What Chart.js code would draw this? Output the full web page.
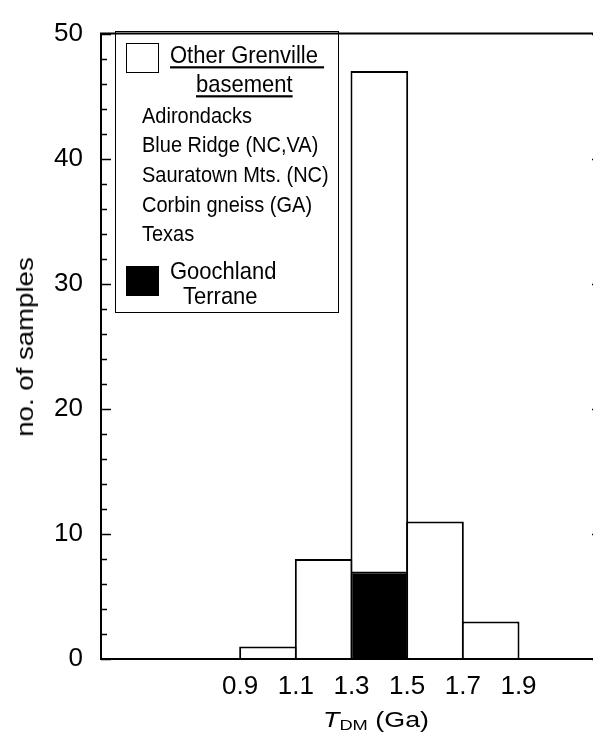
<!DOCTYPE html>
<html>
<head>
<meta charset="utf-8">
<script src="https://cdn.jsdelivr.net/npm/chart.js@4/dist/chart.umd.min.js"></script>
<style>
  html, body { margin: 0; padding: 0; background: #fff; overflow: hidden; }
  #wrap { position: relative; width: 610px; height: 744px; }
  #chartBox { position: absolute; left: 0; top: 0; width: 610px; height: 744px; }
  .t { position: absolute; font-family: "Liberation Sans", Arial, sans-serif; color: #000; white-space: nowrap; line-height: 1; }
  #legendBox { position: absolute; left: 115px; top: 31px; width: 222px; height: 280px; border: 1.5px solid #000; }
  .sw { position: absolute; border: 1.5px solid #000; box-sizing: border-box; }
  .u { text-decoration: underline; text-decoration-thickness: 1.5px; text-underline-offset: 3px; }
  .s { transform: scaleY(1.1); transform-origin: left 85%; }
</style>
</head>
<body>
<div id="wrap">
  <div id="chartBox"><canvas id="c"></canvas></div>

  <div id="legendBox"></div>
  <div class="sw" style="left:126px; top:43px; width:33px; height:30px; background:#fff;"></div>
  <div class="t u s" style="left:170px; top:45px; font-size:22px;">Other Grenville&nbsp;</div>
  <div class="t u s" style="left:196px; top:74px; font-size:22px;">basement</div>
  <div class="t s" style="left:142px; top:106px; font-size:20px;">Adirondacks</div>
  <div class="t s" style="left:142px; top:135px; font-size:20px;">Blue Ridge (NC,VA)</div>
  <div class="t s" style="left:142px; top:165px; font-size:20px;">Sauratown Mts. (NC)</div>
  <div class="t s" style="left:142px; top:195px; font-size:20px;">Corbin gneiss (GA)</div>
  <div class="t s" style="left:142px; top:224px; font-size:20px;">Texas</div>
  <div class="sw" style="left:126px; top:266px; width:33px; height:30px; background:#000;"></div>
  <div class="t s" style="left:170px; top:261px; font-size:22px;">Goochland</div>
  <div class="t s" style="left:183px; top:286px; font-size:22px;">Terrane</div>

  <div class="t" style="left:226px; top:709px; width:300px; text-align:center; font-size:22px; transform:scaleX(1.22); transform-origin:center;"><i>T</i><span style="font-size:15px; position:relative; top:3px;">DM</span> (Ga)</div>
  <div class="t" style="left:-125px; top:335px; width:300px; height:24px; text-align:center; font-size:24px; transform:rotate(-90deg) scaleX(1.15); transform-origin:center;">no. of samples</div>
</div>
<script>
// ---- data ----
const binCenters = [1.0, 1.2, 1.4, 1.6, 1.8];       // T_DM bins (Ga), 0.2 wide
const otherGrenville = [1, 8, 40, 11, 3];             // white part
const goochland = [null, null, 7, null, null];        // black part
const xTickValues = [0.9, 1.1, 1.3, 1.5, 1.7, 1.9];
const yMajorTicks = [0, 10, 20, 30, 40, 50];
const yMinorTicks = [2, 4, 6, 8, 12, 14, 16, 18, 22, 24, 26, 28, 32, 34, 36, 38, 42, 44, 46, 48];

const FONT = "'Liberation Sans', Arial, sans-serif";

const framePlugin = {
  id: 'frame',
  afterDatasetsDraw(chart) {
    const { ctx, chartArea: a, scales } = chart;
    const y = scales.y;
    ctx.save();
    ctx.strokeStyle = '#000';
    ctx.lineWidth = 2;
    ctx.beginPath();
    ctx.rect(a.left, a.top, a.right - a.left, a.bottom - a.top);
    ctx.stroke();
    ctx.lineWidth = 1.5;
    ctx.beginPath();
    const draw = (vals, len) => {
      for (const v of vals) {
        const py = Math.round(y.getPixelForValue(v)) + 0.5;
        ctx.moveTo(a.left, py); ctx.lineTo(a.left + len, py);
        ctx.moveTo(a.right, py); ctx.lineTo(a.right - len, py);
      }
    };
    draw(yMajorTicks, 10);
    draw(yMinorTicks, 6);
    ctx.stroke();
    ctx.restore();
  }
};

new Chart(document.getElementById('c'), {
  type: 'bar',
  data: {
    datasets: [
      {
        label: 'Goochland Terrane',
        data: binCenters.map((x, i) => ({ x, y: goochland[i] })),
        backgroundColor: '#000',
        borderColor: '#000',
        borderWidth: 2,
        barPercentage: 1,
        categoryPercentage: 1.036
      },
      {
        label: 'Other Grenville basement',
        data: binCenters.map((x, i) => ({ x, y: otherGrenville[i] })),
        backgroundColor: '#fff',
        borderColor: '#000',
        borderWidth: 2,
        barPercentage: 1,
        categoryPercentage: 1.036
      }
    ]
  },
  options: {
    responsive: true,
    maintainAspectRatio: false,
    animation: false,
    layout: { padding: { top: 22, right: 8, left: 0, bottom: 0 } },
    plugins: { legend: { display: false }, tooltip: { enabled: false } },
    scales: {
      x: {
        type: 'linear',
        stacked: true,
        offset: false,
        min: 0.4,
        max: 2.2,
        grid: { display: false, drawTicks: false },
        border: { display: false },
        afterBuildTicks: (s) => { s.ticks = xTickValues.map(v => ({ value: v })); },
        afterFit: (s) => { s.height = 85; },
        ticks: {
          color: '#000',
          padding: 12,
          maxRotation: 0,
          autoSkip: false,
          font: { family: FONT, size: 26 },
          callback: (v) => Number(v).toFixed(1)
        }
      },
      y: {
        stacked: true,
        min: 0,
        max: 50,
        grid: { display: false, drawTicks: false },
        border: { display: false },
        afterBuildTicks: (s) => { s.ticks = yMajorTicks.map(v => ({ value: v })); },
        afterFit: (s) => { s.width = 101; },
        ticks: {
          color: '#000',
          padding: 18,
          font: { family: FONT, size: 26 }
        }
      }
    }
  },
  plugins: [framePlugin]
});
</script>
</body>
</html>
